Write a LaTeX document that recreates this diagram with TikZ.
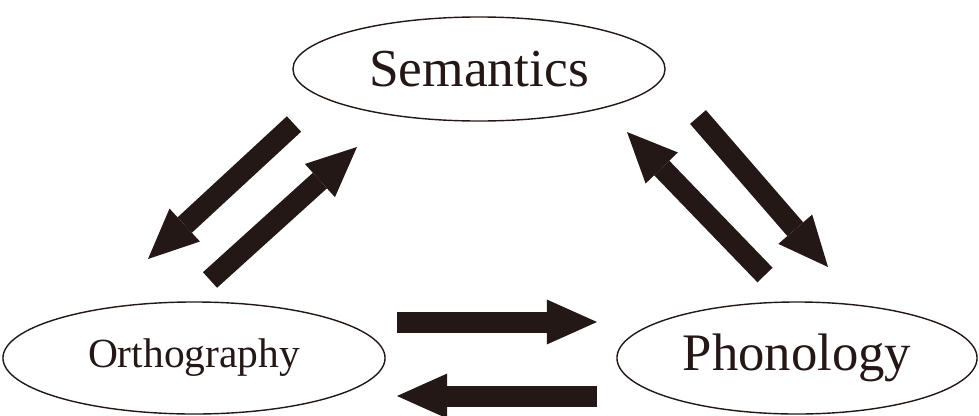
\documentclass[tikz,border=0pt]{standalone}
\usepackage{fontspec}
\setmainfont{Liberation Serif}
\usepackage{xcolor}
\usetikzlibrary{shapes.geometric,arrows.meta}
\definecolor{inkblack}{HTML}{231815}

\begin{document}
\begin{tikzpicture}[x=0.025cm, y=-0.025cm,
    ovalnode/.style={ellipse, draw=inkblack, line width=1pt, inner sep=0pt, text=inkblack},
    blockarrow/.style={draw=inkblack, line width=0.525cm,
        -{Triangle[length=1.25cm, width=1.12cm, line width=0pt]}}]
        \useasboundingbox (0,0) rectangle (979,415);

        \node[ovalnode, minimum width=9.3cm, minimum height=2.6cm] (Sem) at (479,69) {\fontsize{38}{40}\selectfont Semantics};
        \node[ovalnode, minimum width=9.55cm, minimum height=2.8cm] (Orth) at (194,358) {\fontsize{29.5}{32}\selectfont Orthography};
        \node[ovalnode, minimum width=9.0cm, minimum height=2.8cm] (Phon) at (797,358) {\fontsize{37.5}{40}\selectfont Phonology};

        % arrow ends
        \coordinate (SOtail) at (294,124);
        \coordinate (SOtip) at (148,259);
        \coordinate (OStail) at (210,280);
        \coordinate (OStip) at (357,147);
        \coordinate (SPtail) at (698,117);
        \coordinate (SPtip) at (828,267);
        \coordinate (PStail) at (765,275);
        \coordinate (PStip) at (627,132);
        \coordinate (OPtail) at (397,322);
        \coordinate (OPtip) at (597,322);
        \coordinate (POtail) at (597,396);
        \coordinate (POtip) at (397,396);

        \draw[blockarrow] (SOtail) -- (SOtip);
        \draw[blockarrow] (OStail) -- (OStip);
        \draw[blockarrow] (SPtail) -- (SPtip);
        \draw[blockarrow] (PStail) -- (PStip);
        \draw[blockarrow] (OPtail) -- (OPtip);
        \draw[blockarrow] (POtail) -- (POtip);

    \end{tikzpicture}
\end{document}
